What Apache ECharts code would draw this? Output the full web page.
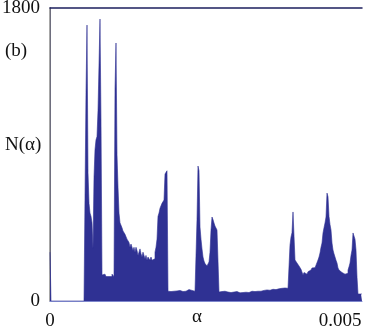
<!DOCTYPE html>
<html>
<head>
<meta charset="utf-8">
<script src="https://cdn.jsdelivr.net/npm/echarts@6/dist/echarts.min.js"></script>
<style>html,body{margin:0;padding:0;background:#fff}#c{width:365px;height:328px}</style>
</head>
<body>
<div id="c"></div>
<script>
// Histogram N(alpha): bin width in alpha units, counts per bin starting at alpha = 0
const binWidth = 0.005 / 290;
const xTicks = [0, 0.005];
const xTickLabels = ['0', '0.005'];
const yTicks = [0, 1800];
const yTickLabels = ['0', '1800'];
const counts = [
  300,
  0,0,0,0,0,0,0,0,0,0,0,0,0,0,0,0,0,0,0,0,0,0,0,0,0,0,0,0,0,0,0,0,0,0,0,
  1280,1695,790,600,540,520,480,320,760,930,990,1010,1170,1180,1732,1100,
  160,150,165,155,150,140,150,160,145,150,165,155,150,
  1300,1585,900,700,540,480,470,450,430,440,410,400,380,390,360,330,350,340,310,330,300,330,310,280,300,320,290,270,300,280,260,280,250,270,260,250,270,250,240,260,
  300,330,380,520,540,570,560,600,590,620,780,790,800,
  60,55,58,52,55,60,50,55,62,58,55,65,60,55,58,62,55,60,65,58,70,62,60,65,70,66,60,68,65,
  500,829,800,454,380,320,270,245,230,221,215,209,240,300,436,516,500,479,460,448,436,430,
  55,52,58,50,55,60,52,48,55,58,50,52,56,60,55,50,52,58,55,52,50,
  55,58,52,55,60,54,50,56,52,58,55,60,55,52,58,62,55,60,58,56,
  60,62,58,65,60,62,68,60,64,66,70,65,72,75,68,70,78,72,75,80,74,78,72,76,80,75,72,78,74,76,
  344,393,420,547,540,252,240,233,225,215,209,195,190,160,175,172,165,175,180,185,190,195,203,200,205,209,220,230,252,270,295,330,356,418,450,479,516,663,640,520,470,436,356,313,290,270,250,233,203,190,178,175,172,168,165,160,165,170,190,210,233,280,313,418,424,380,313,147,43,43,43,43
];

const pts = counts.map((v, i) => [i * binWidth, v]);
pts.push([counts.length * binWidth, counts[counts.length - 1]]);
const xMax = counts.length * binWidth;

const chart = echarts.init(document.getElementById('c'), null, {renderer: 'canvas'});
const serif = '"Liberation Serif", "DejaVu Serif", serif';
chart.setOption({
  animation: false,
  grid: {left: 50, top: 8, right: 3, bottom: 27, containLabel: false, outerBoundsMode: 'none'},
  xAxis: [{
    type: 'value', min: 0, max: xMax,
    axisLine: {show: true, onZero: false, lineStyle: {color: '#7d86cc', width: 1}},
    axisTick: {show: false},
    splitLine: {show: false},
    axisLabel: {
      customValues: xTicks,
      formatter: v => { const k = xTicks.findIndex(t => Math.abs(t - v) < 1e-9); return k >= 0 ? xTickLabels[k] : ''; },
      fontFamily: serif, fontSize: 19, color: '#111', margin: 11,
      showMinLabel: true, showMaxLabel: true, hideOverlap: false
    }
  }, {
    type: 'value', min: 0, max: xMax, position: 'top',
    axisLine: {show: true, onZero: false, lineStyle: {color: '#1c1f5e', width: 1.5}},
    axisTick: {show: false}, axisLabel: {show: false}, splitLine: {show: false}
  }],
  yAxis: [{
    type: 'value', min: 0, max: 1800, interval: 1800,
    axisLine: {show: true, lineStyle: {color: '#1c1f5e', width: 1}},
    axisTick: {show: false},
    splitLine: {show: false},
    axisLabel: {
      formatter: v => { const k = yTicks.indexOf(v); return k >= 0 ? yTickLabels[k] : ''; },
      fontFamily: serif, fontSize: 19, color: '#111', margin: 10
    }
  }, {
    type: 'value', min: 0, max: 1800, position: 'right',
    axisLine: {show: true, lineStyle: {color: '#8a8a8a', width: 1.5}},
    axisTick: {show: false}, axisLabel: {show: false}, splitLine: {show: false}
  }],
  series: [{
    type: 'line',
    data: pts,
    step: 'end',
    symbol: 'none',
    lineStyle: {width: 0.6, color: '#2f3193'},
    areaStyle: {color: '#2f3193', opacity: 1},
    z: 1
  }],
  graphic: [
    {type: 'text', left: 5, top: 42, style: {text: '(b)', font: '19px ' + serif, fill: '#111'}},
    {type: 'text', left: 5, top: 136, style: {text: 'N(α)', font: '19px ' + serif, fill: '#111'}},
    {type: 'text', left: 192, top: 308, style: {text: 'α', font: '19px ' + serif, fill: '#111'}}
  ]
});
</script>
</body>
</html>
